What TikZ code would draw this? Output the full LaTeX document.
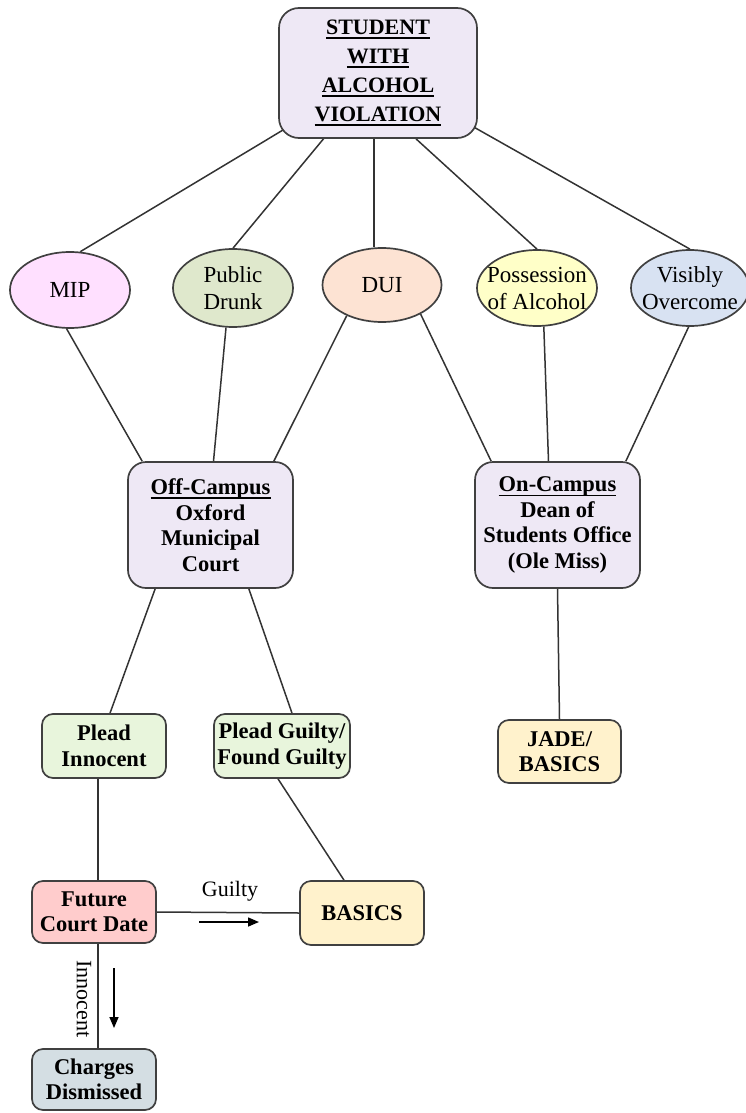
\documentclass[tikz,border=0pt]{standalone}
\usepackage{fontspec}
\setmainfont{Liberation Serif}
\usetikzlibrary{shapes.geometric,backgrounds,arrows.meta}
\definecolor{bordc}{HTML}{404040}
\definecolor{linec}{HTML}{333333}
\definecolor{lav}{HTML}{EEE8F5}
\definecolor{mipc}{HTML}{FFE0FF}
\definecolor{pdc}{HTML}{DFE8CC}
\definecolor{duic}{HTML}{FDE3D3}
\definecolor{posc}{HTML}{FFFFC8}
\definecolor{visc}{HTML}{D8E2F2}
\definecolor{greenc}{HTML}{E8F5DC}
\definecolor{yelc}{HTML}{FFF2CC}
\definecolor{redc}{HTML}{FFCCCC}
\definecolor{grayc}{HTML}{D4DEE3}
\newcommand\myul[1]{\setbox0\hbox{#1}\makebox[0pt][l]{\rule[-4.5pt]{\wd0}{1.8pt}}\box0}
\begin{document}
\begin{tikzpicture}[x=1pt,y=-1pt,
  box/.style={draw=bordc,line width=1.7pt,rounded corners=11pt,align=center,
    font=\fontsize{22.5}{25.5}\selectfont\bfseries,inner sep=0pt},
  ell/.style={ellipse,draw=bordc,line width=1.7pt,inner sep=0pt,minimum width=120pt,minimum height=76pt},
  elltext/.style={align=center,font=\fontsize{23}{27}\selectfont,inner sep=0pt},
  conn/.style={draw=linec,line width=1.5pt},
  arr/.style={draw=black,-{Triangle[length=11pt,width=9pt]},line width=1.5pt}]
\useasboundingbox (0,0) rectangle (746,1113);

% top
\node[box,fill=lav,minimum width=198pt,minimum height=130pt,rounded corners=20pt,
  font=\fontsize{22}{29}\selectfont\bfseries] (top) at (378,73)
  {\myul{STUDENT}\\\myul{WITH}\\\myul{ALCOHOL}\\\myul{VIOLATION}};

% ellipses
\node[ell,fill=mipc,label={[elltext]center:MIP}] (mip) at (70,290) {};
\node[ell,fill=pdc,minimum height=78pt,label={[elltext]center:Public\\Drunk}] (pd) at (233,288) {};
\node[ell,fill=duic,minimum width=119pt,minimum height=74pt,label={[elltext]center:DUI}] (dui) at (382,285) {};
\node[ell,fill=posc,label={[elltext]center:Possession\\of Alcohol}] (pos) at (537,288) {};
\node[ell,fill=visc,minimum width=118pt,label={[elltext]center:Visibly\\Overcome}] (vis) at (690,288) {};

% middle boxes
\node[box,fill=lav,minimum width=165pt,minimum height=126pt,rounded corners=18pt] (off) at (210.5,525)
  {\myul{Off-Campus}\\Oxford\\Municipal\\Court};
\node[box,fill=lav,minimum width=165pt,minimum height=126pt,rounded corners=18pt] (on) at (557.5,525)
  {\myul{On-Campus}\\Dean of\\Students Office\\(Ole Miss)};

% lower boxes
\node[box,fill=greenc,minimum width=124pt,minimum height=64pt] (pi) at (104,746) {Plead\\Innocent};
\node[box,fill=greenc,minimum width=136pt,minimum height=64pt] (pg) at (282,746) {Plead Guilty/\\Found Guilty};
\node[box,fill=yelc,minimum width=123pt,minimum height=63pt] (jade) at (559.5,751.5) {JADE/\\BASICS};
\node[box,fill=redc,minimum width=124pt,minimum height=62pt] (fc) at (94,912) {Future\\Court Date};
\node[box,fill=yelc,minimum width=124pt,minimum height=64pt] (basics) at (362,913) {BASICS};
\node[box,fill=grayc,minimum width=124pt,minimum height=61pt] (cd) at (94,1079.5) {Charges\\Dismissed};

% labels
\node[font=\fontsize{22}{24}\selectfont,inner sep=0pt] (glab) at (230,891) {Guilty};
\node[font=\fontsize{22}{24}\selectfont,inner sep=0pt,rotate=-90] (ilab) at (84,999) {Innocent};

% arrows
\coordinate (ga1) at (199,922); \coordinate (ga2) at (259,922);
\coordinate (ia1) at (114,968); \coordinate (ia2) at (114,1028);
\draw[arr] (ga1) -- (ga2);
\draw[arr] (ia1) -- (ia2);

\begin{scope}[on background layer]
\draw[conn] (top.center) -- (mip.75);
\draw[conn] (top.center) -- (pd.north);
\draw[conn] (dui.102) -- (dui.102 |- top.south);
\draw[conn] ([xshift=38pt]top.south) -- (pos.north);
\draw[conn] (top.center) -- (vis.north);
\draw[conn] (mip.265) -- ([xshift=15pt]off.north west);
\draw[conn] (pd.260) -- ([xshift=3pt]off.north);
\draw[conn] (dui.221) -- ([xshift=-20pt]off.north east);
\draw[conn] (dui.323) -- ([xshift=17pt]on.north west);
\draw[conn] (pos.280) -- ([xshift=-9pt]on.north);
\draw[conn] (vis.268) -- ([xshift=-15pt]on.north east);
\draw[conn] ([xshift=28pt]off.south west) -- ([xshift=6pt]pi.north);
\draw[conn] ([xshift=-45pt]off.south east) -- ([xshift=10pt]pg.north);
\draw[conn] (on.south) -- (jade.north);
\draw[conn] ([xshift=4pt]fc.north) -- ([xshift=4pt]fc.north |- pi.south);
\draw[conn] ([xshift=-4pt]pg.south) -- ([xshift=-18pt]basics.north);
\draw[conn] (fc.east) -- (basics.west);
\draw[conn] ([xshift=4pt]fc.south) -- ([xshift=4pt]cd.north);
\end{scope}
\end{tikzpicture}
\end{document}
